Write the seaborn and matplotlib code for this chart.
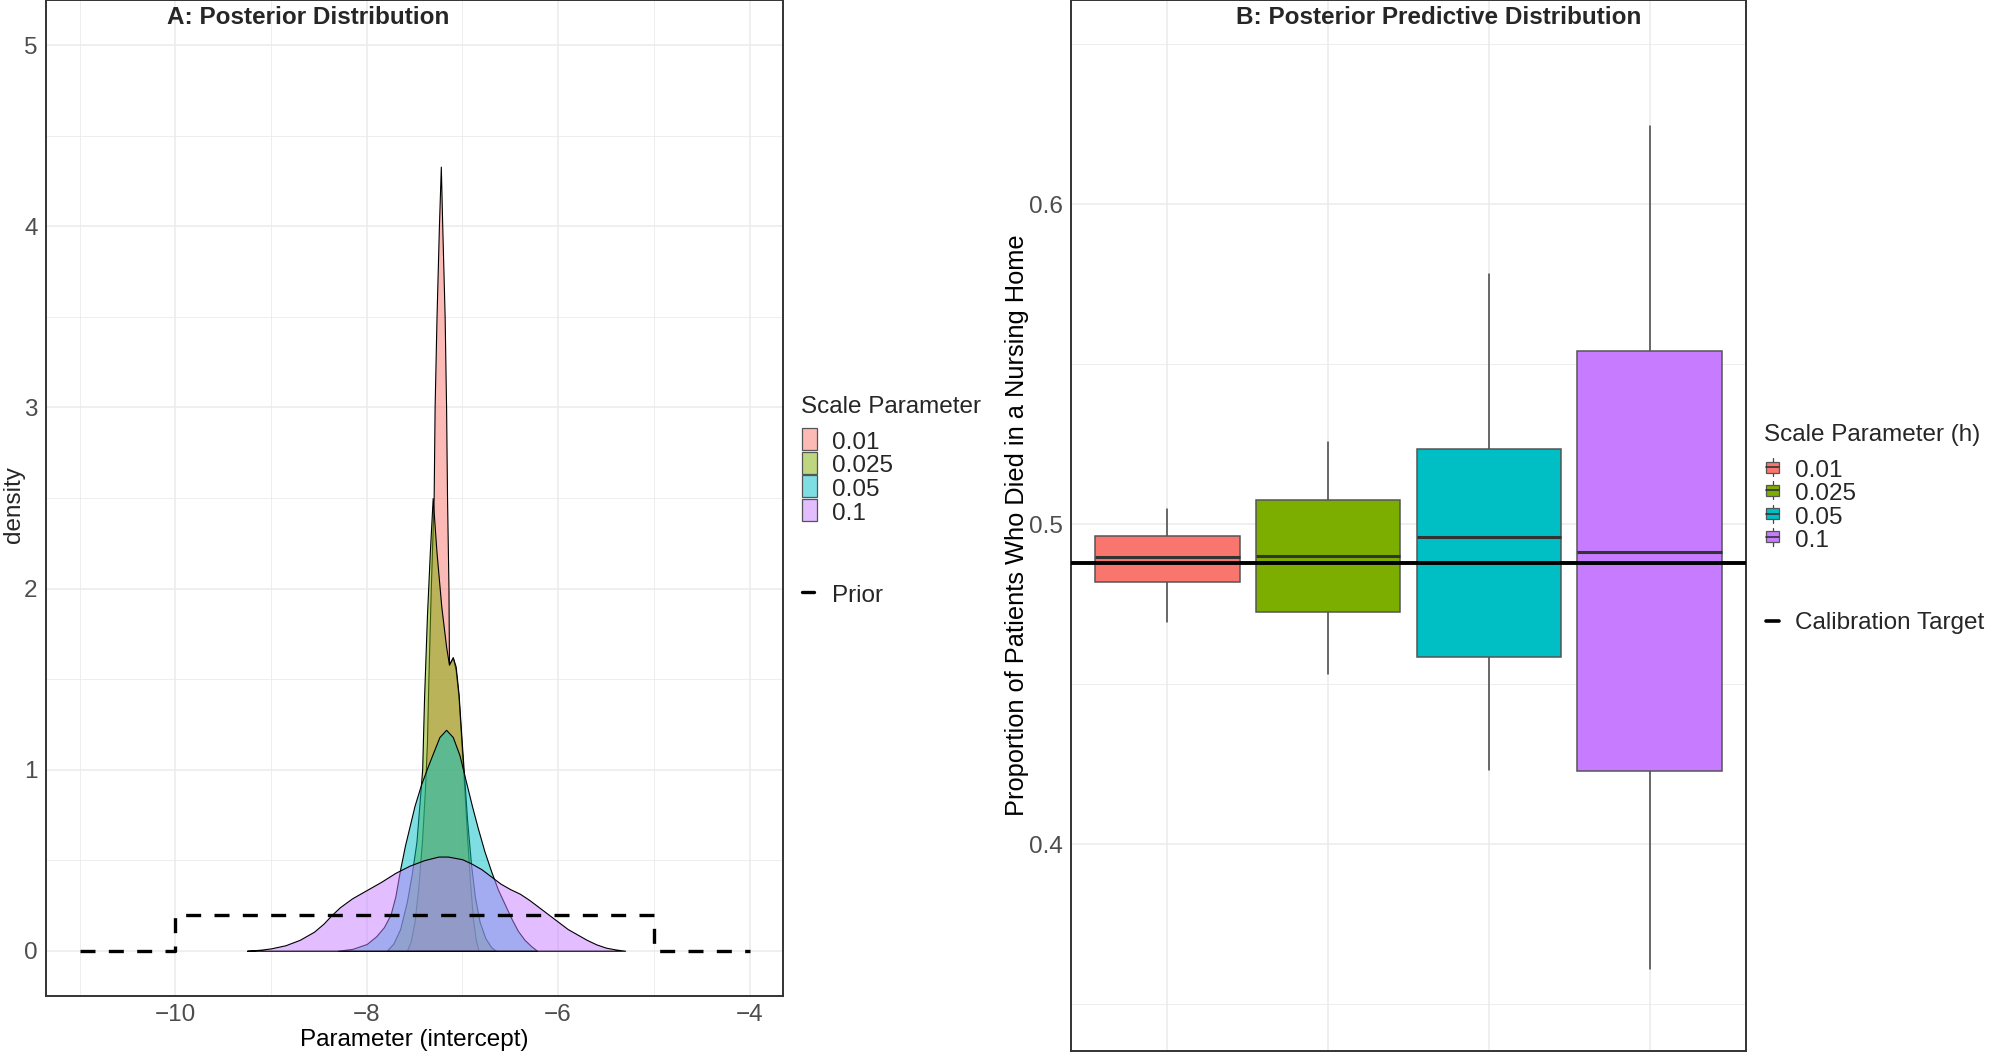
import matplotlib
matplotlib.use("Agg")
import matplotlib.pyplot as plt
from matplotlib.colors import to_rgba
from matplotlib.patches import Rectangle
from matplotlib.ticker import MultipleLocator
import seaborn as sns

# ---- data ----
scale_levels = ["0.01", "0.025", "0.05", "0.1"]
level_colors = ["#F8766D", "#7CAE00", "#00BFC4", "#C77CFF"]

# panel A: posterior density curves
dens_x_001 = [-7.58, -7.54, -7.50, -7.46, -7.42, -7.39, -7.37, -7.355, -7.33, -7.30, -7.29,
              -7.27, -7.245, -7.225, -7.21, -7.185, -7.17, -7.16, -7.145, -7.14, -7.10,
              -7.07, -7.04, -7.01, -6.98, -6.95, -6.92, -6.89, -6.86, -6.83]
dens_y_001 = [0, 0.05, 0.16, 0.35, 0.62, 0.9, 1.15, 1.5, 2.0, 2.5, 3.0,
              3.5, 4.0, 4.33, 4.0, 3.5, 3.0, 2.5, 2.0, 1.58, 1.62,
              1.55, 1.4, 1.15, 0.9, 0.62, 0.38, 0.18, 0.06, 0]

dens_x_0025 = [-7.79, -7.72, -7.65, -7.58, -7.53, -7.48, -7.45, -7.42, -7.40, -7.37, -7.34,
               -7.31, -7.27, -7.22, -7.17, -7.14, -7.10, -7.07, -7.04, -7.01, -6.98,
               -6.95, -6.91, -6.87, -6.82, -6.76, -6.70, -6.65]
dens_y_0025 = [0, 0.04, 0.12, 0.27, 0.42, 0.6, 0.8, 1.0, 1.4, 1.85, 2.2,
               2.5, 2.2, 1.9, 1.68, 1.58, 1.62, 1.57, 1.42, 1.18, 0.95,
               0.72, 0.48, 0.3, 0.16, 0.07, 0.02, 0]

dens_x_005 = [-8.30, -8.15, -8.0, -7.9, -7.82, -7.75, -7.70, -7.65, -7.60, -7.55, -7.50,
              -7.43, -7.36, -7.30, -7.24, -7.17, -7.10, -7.03, -6.97, -6.90, -6.84,
              -6.77, -6.70, -6.63, -6.56, -6.49, -6.42, -6.35, -6.28, -6.22]
dens_y_005 = [0, 0.01, 0.037, 0.08, 0.13, 0.2, 0.3, 0.45, 0.58, 0.69, 0.8,
              0.92, 1.02, 1.1, 1.18, 1.22, 1.18, 1.08, 0.95, 0.8, 0.68,
              0.55, 0.44, 0.34, 0.26, 0.18, 0.11, 0.06, 0.025, 0]

dens_x_01 = [-9.25, -9.1, -9.0, -8.85, -8.7, -8.55, -8.45, -8.37, -8.28, -8.15, -8.0,
             -7.85, -7.7, -7.55, -7.4, -7.25, -7.15, -7.0, -6.9, -6.8, -6.7,
             -6.6, -6.5, -6.4, -6.3, -6.2, -6.1, -6.0, -5.9, -5.8, -5.7,
             -5.6, -5.5, -5.4, -5.3]
dens_y_01 = [0, 0.006, 0.013, 0.03, 0.06, 0.105, 0.15, 0.195, 0.24, 0.29, 0.335,
             0.38, 0.43, 0.47, 0.5, 0.52, 0.52, 0.505, 0.48, 0.45, 0.41,
             0.37, 0.34, 0.315, 0.28, 0.24, 0.2, 0.16, 0.12, 0.09, 0.06,
             0.035, 0.017, 0.007, 0]

prior_x = [-11, -10, -10, -5, -5, -4]
prior_y = [0, 0, 0.2, 0.2, 0, 0]

# panel B: posterior predictive boxplots
box_whislo = [0.4693, 0.4532, 0.4231, 0.3610]
box_q1 = [0.4818, 0.4727, 0.4584, 0.4230]
box_med = [0.4899, 0.4900, 0.4961, 0.4912]
box_q3 = [0.4964, 0.5077, 0.5235, 0.5541]
box_whishi = [0.5048, 0.5258, 0.5782, 0.6245]
calibration_target = 0.4879

dens_x = [dens_x_001, dens_x_0025, dens_x_005, dens_x_01]
dens_y = [dens_y_001, dens_y_0025, dens_y_005, dens_y_01]

# ---- style ----
sns.set_theme(style="whitegrid")
plt.rcParams["font.family"] = ["Liberation Sans", "DejaVu Sans"]
FS = 17.5
GRID = "#EBEBEB"
TICK_C = "#4D4D4D"

W, H = 1990, 1053
fig = plt.figure(figsize=(W / 100, H / 100), dpi=100)
fig.patch.set_facecolor("white")


def px_axes(x0, y0, x1, y1):
    # axes box given in pixel coords (origin top-left)
    return fig.add_axes([x0 / W, 1 - y1 / H, (x1 - x0) / W, (y1 - y0) / H])


def style_axes(ax):
    ax.set_facecolor("white")
    for s in ax.spines.values():
        s.set_visible(True)
        s.set_color("#333333")
        s.set_linewidth(1.4)
    ax.grid(which="major", color=GRID, lw=1.1)
    ax.grid(which="minor", color=GRID, lw=0.6)
    ax.set_axisbelow(True)
    ax.tick_params(which="major", length=3, width=1, color="#333333",
                   labelsize=FS, labelcolor=TICK_C, pad=3)
    ax.tick_params(which="minor", length=0)


# ---- panel A ----
axA = px_axes(46, 0, 783, 996)
style_axes(axA)
for i in range(4):
    axA.fill_between(dens_x[i], dens_y[i], 0,
                     facecolor=to_rgba(level_colors[i], 0.5),
                     edgecolor="black", linewidth=0.8, zorder=2 + i)
sns.lineplot(x=prior_x, y=prior_y, ax=axA, sort=False, estimator=None,
             color="black", linewidth=2.4, linestyle=(0, (4.5, 4)), zorder=10)
axA.set_xlim(-11.35, -3.65)
axA.set_ylim(-0.25, 5.25)
axA.set_xticks([-10, -8, -6, -4])
axA.set_yticks([0, 1, 2, 3, 4, 5])
axA.xaxis.set_minor_locator(MultipleLocator(1))
axA.yaxis.set_minor_locator(MultipleLocator(0.5))
axA.set_xlabel("Parameter (intercept)", fontsize=FS, color="black", labelpad=2)
axA.set_ylabel("")

# ---- panel B ----
axB = px_axes(1071, 0, 1746, 1051)
style_axes(axB)
stats = []
for i in range(4):
    stats.append({"med": box_med[i], "q1": box_q1[i], "q3": box_q3[i],
                  "whislo": box_whislo[i], "whishi": box_whishi[i],
                  "fliers": [], "label": scale_levels[i]})
bp = axB.bxp(stats, positions=list(range(4)), widths=0.9, patch_artist=True,
             showcaps=False, showfliers=False,
             boxprops={"edgecolor": "#555555", "linewidth": 1.1},
             medianprops={"color": "#333333", "linewidth": 2.2},
             whiskerprops={"color": "#444444", "linewidth": 1.1})
for patch, c in zip(bp["boxes"], level_colors):
    patch.set_facecolor(c)
    patch.set_zorder(3)
for ln in bp["medians"]:
    ln.set_zorder(4)
axB.axhline(calibration_target, color="black", linewidth=2.8, zorder=5)
axB.set_xlim(-0.6, 3.6)
axB.set_ylim(0.3354, 0.6638)
axB.set_xticks(range(4))
axB.set_xticklabels([])
axB.tick_params(axis="x", length=0)
axB.set_yticks([0.4, 0.5, 0.6])
axB.set_yticklabels(["0.4", "0.5", "0.6"])
axB.yaxis.set_minor_locator(MultipleLocator(0.05))
axB.set_xlabel("")
axB.set_ylabel("Proportion of Patients Who Died in a Nursing Home",
               fontsize=18.3, color="black", labelpad=0)

# ---- titles and legends (overlay in pixel space) ----
ov = fig.add_axes([0, 0, 1, 1], zorder=20)
ov.set_xlim(0, W)
ov.set_ylim(H, 0)
ov.axis("off")
ov.patch.set_alpha(0)

ov.text(14, 505, "density", fontsize=FS, rotation=90, ha="center", va="center")

ov.text(308, 17, "A: Posterior Distribution", fontsize=FS, fontweight="bold",
        ha="center", va="center")
ov.text(1439, 17, "B: Posterior Predictive Distribution", fontsize=FS,
        fontweight="bold", ha="center", va="center")

# legend A
ov.text(801, 413, "Scale Parameter", fontsize=FS, va="baseline")
for i, lab in enumerate(scale_levels):
    top = 428 + i * 23.5
    ov.add_patch(Rectangle((802, top), 15, 22, facecolor=to_rgba(level_colors[i], 0.5),
                           edgecolor="#555555", linewidth=0.9))
    ov.text(832, top + 15, lab, fontsize=FS, va="center")
ov.plot([802, 814], [592, 592], color="black", linewidth=2.4)
ov.text(832, 596, "Prior", fontsize=FS, va="center")

# legend B
ov.text(1764, 441, "Scale Parameter (h)", fontsize=FS, va="baseline")
for i, lab in enumerate(scale_levels):
    cy = 467 + i * 23.3
    ov.plot([1772.5, 1772.5], [cy - 9, cy + 9], color="#444444", linewidth=0.9)
    ov.add_patch(Rectangle((1766, cy - 5.5), 13, 11, facecolor=level_colors[i],
                           edgecolor="#555555", linewidth=0.9, zorder=3))
    ov.plot([1766, 1779], [cy, cy], color="#333333", linewidth=1.2, zorder=4)
    ov.text(1795, cy + 4, lab, fontsize=FS, va="center")
ov.plot([1766, 1779], [621, 621], color="black", linewidth=2.6)
ov.text(1795, 623, "Calibration Target", fontsize=FS, va="center")

fig.savefig("out.png", dpi=100)
